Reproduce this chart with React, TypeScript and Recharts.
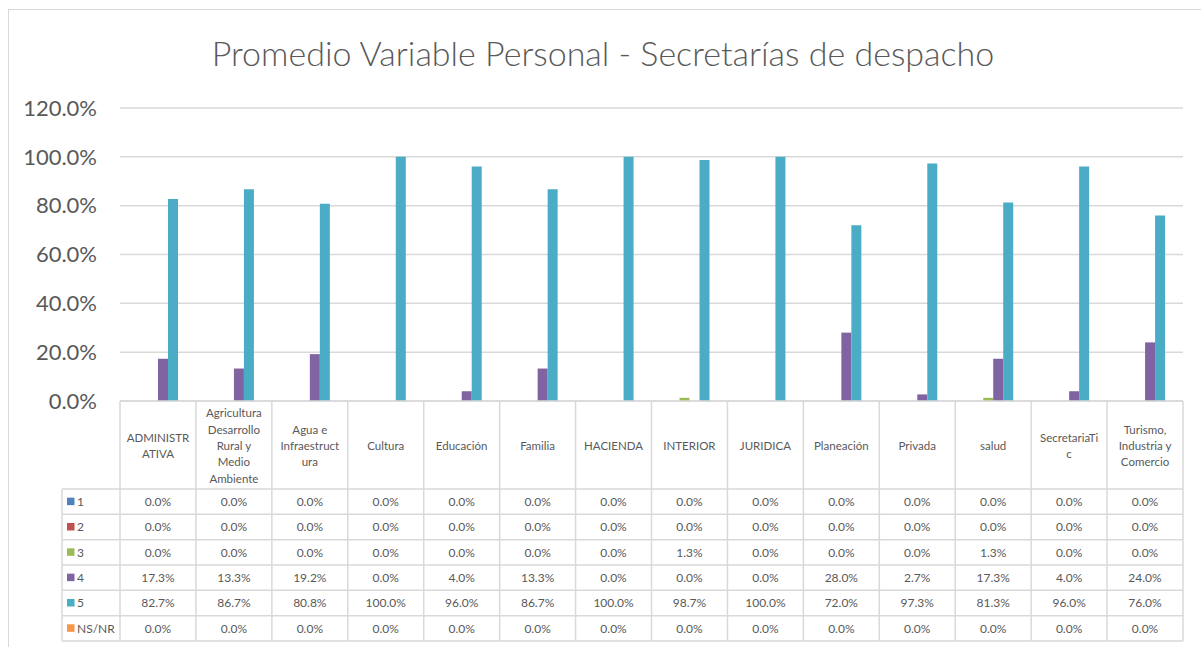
import { BarChart, Bar, XAxis, YAxis, CartesianGrid } from "recharts";

// Categorías (secretarías) y su texto partido como en la tabla
const categories = [
  "ADMINISTRATIVA",
  "Agricultura Desarrollo Rural y Medio Ambiente",
  "Agua e Infraestructura",
  "Cultura",
  "Educación",
  "Familia",
  "HACIENDA",
  "INTERIOR",
  "JURIDICA",
  "Planeación",
  "Privada",
  "salud",
  "SecretariaTic",
  "Turismo, Industria y Comercio",
];

const headerLines = [
  ["ADMINISTR", "ATIVA"],
  ["Agricultura", "Desarrollo", "Rural y", "Medio", "Ambiente"],
  ["Agua e", "Infraestruct", "ura"],
  ["Cultura"],
  ["Educación"],
  ["Familia"],
  ["HACIENDA"],
  ["INTERIOR"],
  ["JURIDICA"],
  ["Planeación"],
  ["Privada"],
  ["salud"],
  ["SecretariaTi", "c"],
  ["Turismo,", "Industria y", "Comercio"],
];

const serie1 = [0, 0, 0, 0, 0, 0, 0, 0, 0, 0, 0, 0, 0, 0];
const serie2 = [0, 0, 0, 0, 0, 0, 0, 0, 0, 0, 0, 0, 0, 0];
const serie3 = [0, 0, 0, 0, 0, 0, 0, 1.3, 0, 0, 0, 1.3, 0, 0];
const serie4 = [17.3, 13.3, 19.2, 0, 4.0, 13.3, 0, 0, 0, 28.0, 2.7, 17.3, 4.0, 24.0];
const serie5 = [82.7, 86.7, 80.8, 100, 96.0, 86.7, 100, 98.7, 100, 72.0, 97.3, 81.3, 96.0, 76.0];
const serieNsnr = [0, 0, 0, 0, 0, 0, 0, 0, 0, 0, 0, 0, 0, 0];

const seriesNames = ["1", "2", "3", "4", "5", "NS/NR"];
const seriesValues = [serie1, serie2, serie3, serie4, serie5, serieNsnr];
const COLORS = ["#4f81bd", "#c0504d", "#9bbb59", "#8064a2", "#4bacc6", "#f79646"];

const yTicks = [0, 20, 40, 60, 80, 100, 120];

const data = categories.map((name, i) => {
  const row: Record<string, string | number> = { name };
  seriesValues.forEach((vals, s) => {
    row["s" + s] = vals[i];
  });
  return row;
});

const FONT = "Lato, 'Open Sans', sans-serif";
const TEXT = "#595959";
const LINE = "#d9d9d9";

const HEADER_H = 88;
const ROW_H = 25.33;
const LEGEND_W = 58;

// Tick del eje X: dibuja la columna de la tabla de datos para cada categoría
function TablaTick(props: any) {
  const { x, y, payload } = props;
  const idx = payload.index;
  const half = payload.offset || 1063 / 14 / 2;
  const left = x - half;
  const right = x + half;
  const top = y;
  const lines = headerLines[idx] || [categories[idx]];
  const lineH = 16.4;
  const midY = top + HEADER_H / 2 + 0.5;
  const bottom = top + HEADER_H + ROW_H * seriesNames.length;

  return (
    <g fontFamily={FONT}>
      {/* encabezado */}
      <line x1={left} x2={right} y1={top} y2={top} stroke={LINE} strokeWidth={1.5} />
      <line x1={right} x2={right} y1={top} y2={bottom} stroke={LINE} strokeWidth={1.5} />
      {idx === 0 && (
        <line x1={left} x2={left} y1={top} y2={bottom} stroke={LINE} strokeWidth={1.5} />
      )}
      {lines.map((t, k) => (
        <text
          key={k}
          x={x}
          y={midY - ((lines.length - 1) * lineH) / 2 + k * lineH}
          textAnchor="middle"
          dominantBaseline="central"
          fontSize={11.5}
          fill={TEXT}
        >
          {t}
        </text>
      ))}
      {/* filas de valores */}
      {seriesNames.map((sn, r) => {
        const rt = top + HEADER_H + r * ROW_H;
        return (
          <g key={sn}>
            <line x1={left} x2={right} y1={rt} y2={rt} stroke={LINE} strokeWidth={1.5} />
            <text
              x={x}
              y={rt + ROW_H / 2}
              textAnchor="middle"
              dominantBaseline="central"
              fontSize={12}
              fill={TEXT}
            >
              {seriesValues[r][idx].toFixed(1) + "%"}
            </text>
            {idx === 0 && (
              <g>
                <line x1={left - LEGEND_W} x2={left} y1={rt} y2={rt} stroke={LINE} strokeWidth={1.5} />
                <rect x={left - LEGEND_W + 5} y={rt + ROW_H / 2 - 4} width={7.5} height={7.5} fill={COLORS[r]} />
                <text
                  x={left - LEGEND_W + 15}
                  y={rt + ROW_H / 2}
                  dominantBaseline="central"
                  fontSize={12}
                  fill={TEXT}
                >
                  {sn}
                </text>
              </g>
            )}
          </g>
        );
      })}
      <line x1={idx === 0 ? left - LEGEND_W : left} x2={right} y1={bottom} y2={bottom} stroke={LINE} strokeWidth={1.5} />
      {idx === 0 && (
        <line x1={left - LEGEND_W} x2={left - LEGEND_W} y1={top + HEADER_H} y2={bottom} stroke={LINE} strokeWidth={1.5} />
      )}
    </g>
  );
}

export default function App() {
  return (
    <div
      style={{
        position: "absolute",
        left: 0,
        top: 0,
        width: 1201,
        height: 647,
        overflow: "hidden",
        background: "#fff",
        fontFamily: FONT,
      }}
    >
      {/* marco del gráfico */}
      <div
        style={{
          position: "absolute",
          left: 8,
          top: 9,
          width: 1300,
          height: 700,
          border: "1px solid #d9d9d9",
        }}
      />
      <svg
        width={1201}
        height={100}
        style={{ position: "absolute", left: 0, top: 0 }}
      >
        <text x={603} y={66} textAnchor="middle" fontSize={34} fontWeight={300} fill={TEXT} fontFamily={FONT}>
          Promedio Variable Personal - Secretarías de despacho
        </text>
      </svg>
      <div style={{ position: "absolute", left: 0, top: 0 }}>
        <BarChart
          width={1201}
          height={647}
          data={data}
          margin={{ top: 108, right: 18, bottom: 6, left: 0 }}
          barCategoryGap={8}
          barGap={0}
        >
          <CartesianGrid vertical={false} stroke={LINE} strokeWidth={1.5} />
          <YAxis
            domain={[0, 120]}
            ticks={yTicks}
            width={120}
            axisLine={false}
            tickLine={false}
            tickSize={0}
            tickMargin={23}
            tickFormatter={(v: number) => v.toFixed(1) + "%"}
            tick={{ fill: TEXT, fontSize: 22, fontFamily: FONT }}
          />
          <XAxis
            dataKey="name"
            height={240}
            interval={0}
            axisLine={false}
            tickLine={false}
            tickSize={0}
            tickMargin={0}
            tick={<TablaTick />}
          />
          {seriesNames.map((sn, s) => (
            <Bar key={sn} dataKey={"s" + s} name={sn} fill={COLORS[s]} isAnimationActive={false} />
          ))}
        </BarChart>
      </div>
    </div>
  );
}
